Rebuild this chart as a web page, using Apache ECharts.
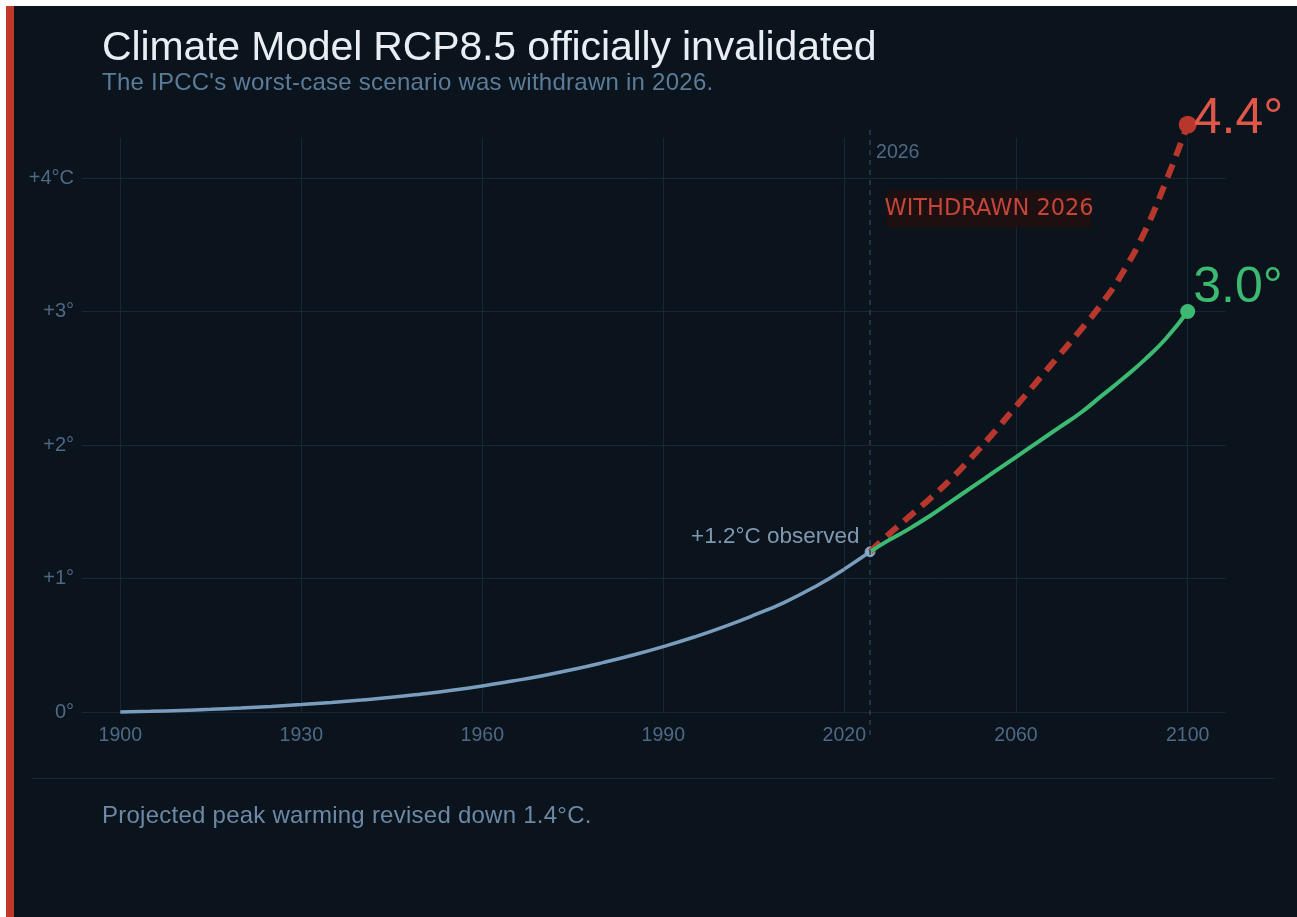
<!DOCTYPE html>
<html>
<head>
<meta charset="utf-8">
<title>Climate Model RCP8.5 officially invalidated</title>
<script src="https://cdn.jsdelivr.net/npm/echarts@6/dist/echarts.min.js"></script>
<style>
  html, body { margin: 0; padding: 0; background: #fff; width: 1297px; height: 917px; overflow: hidden; }
  .card { position: absolute; left: 6px; top: 6px; right: 0; bottom: 0; background: #0b141d; border-left: 8px solid #c0392b; }
  .txt { position: absolute; margin: 0; white-space: nowrap; font-family: "Liberation Sans", Arial, sans-serif; z-index: 2; }
  .title { left: 102px; top: 26px; font-size: 41px; line-height: 41px; color: #e8eef4; letter-spacing: -0.15px; font-weight: normal; }
  .subtitle { left: 102px; top: 70px; font-size: 24px; line-height: 24px; color: #5b7c99; letter-spacing: 0.25px; }
  .rule { position: absolute; left: 32px; right: 22px; top: 778px; height: 0; border-top: 1px solid #1a2634; z-index: 2; }
  .footer { left: 102px; top: 803px; font-size: 24px; line-height: 24px; color: #6b89a6; letter-spacing: 0.25px; }
  #chart { position: absolute; left: 0; top: 0; width: 1297px; height: 917px; z-index: 1; }
</style>
</head>
<body>
<div class="card"></div>
<h1 class="txt title">Climate Model RCP8.5 officially invalidated</h1>
<div class="txt subtitle">The IPCC's worst-case scenario was withdrawn in 2026.</div>
<div id="chart"></div>
<div class="rule"></div>
<div class="txt footer">Projected peak warming revised down 1.4°C.</div>

<script>
// observed warming, 1900 -> 2026 (every 5 years)
const obsYears = [1900, 1905, 1910, 1915, 1920, 1925, 1930, 1935, 1940, 1945, 1950, 1955, 1960,
                  1965, 1970, 1975, 1980, 1985, 1990, 1995, 2000, 2005, 2010, 2015, 2020, 2023, 2026];
const obsTemps = [0, 0.005, 0.012, 0.02, 0.03, 0.042, 0.056, 0.072, 0.09, 0.11, 0.135, 0.163, 0.195,
                  0.232, 0.272, 0.318, 0.37, 0.427, 0.49, 0.56, 0.638, 0.725, 0.82, 0.935, 1.07, 1.135, 1.2];

// withdrawn RCP8.5 path
const rcpYears = [2026, 2030, 2035, 2040, 2045, 2050, 2055, 2060, 2065, 2070, 2075, 2080, 2085, 2090, 2095, 2100];
const rcpTemps = [1.2, 1.32, 1.46, 1.6, 1.75, 1.92, 2.1, 2.29, 2.48, 2.67, 2.86, 3.06, 3.3, 3.6, 3.98, 4.4];

// revised projection
const revYears = [2026, 2030, 2035, 2040, 2045, 2050, 2055, 2060, 2065, 2070, 2075, 2080, 2085, 2090, 2095, 2100];
const revTemps = [1.2, 1.28, 1.37, 1.47, 1.58, 1.69, 1.8, 1.91, 2.02, 2.13, 2.24, 2.37, 2.5, 2.64, 2.8, 3.0];

const yTickLabels = ["0°", "+1°", "+2°", "+3°", "+4°C"];
const splitYear = 2020;   // x scale changes after this year
const withdrawnYear = 2026;

const gridColor = "#1a2634";
const axisText = "#4d6985";
const font = "Liberation Sans, Arial, sans-serif";

const pairs = (xs, ys) => xs.map((x, i) => [x, ys[i]]);

// put a dot + label on the last point of a series
const withEndPoint = (data, size, label) =>
  data.map((p, i) =>
    i === data.length - 1
      ? { value: p, symbol: "circle", symbolSize: size, label: Object.assign({ show: true }, label) }
      : p
  );

const obs = pairs(obsYears, obsTemps);
const obsHist = obs.filter(p => p[0] <= splitYear);
const obsRecent = obs.filter(p => p[0] >= splitYear);

const chart = echarts.init(document.getElementById("chart"), null, { renderer: "canvas" });

const option = {
  animation: false,
  textStyle: { fontFamily: font },
  grid: [
    { left: 82, top: 138, width: 1143.7, height: 574 },
    { left: 120.3, top: 138, width: 724, height: 574 },
    { left: 844.3, top: 138, width: 343.4, height: 574 }
  ],
  xAxis: [
    { gridIndex: 0, type: "value", min: 0, max: 1, show: false },
    {
      gridIndex: 1, type: "value", min: 1900, max: splitYear, interval: 30,
      axisLine: { show: false }, axisTick: { show: false },
      axisLabel: { color: axisText, fontSize: 19.5, margin: 14, formatter: v => String(v) },
      splitLine: { show: true, lineStyle: { color: gridColor, width: 1 } }
    },
    {
      gridIndex: 2, type: "value", min: splitYear, max: 2100, interval: 40,
      axisLine: { show: false }, axisTick: { show: false },
      axisLabel: { color: axisText, fontSize: 19.5, margin: 14, showMinLabel: false, formatter: v => String(v) },
      splitLine: { show: true, showMinLine: false, lineStyle: { color: gridColor, width: 1 } }
    }
  ],
  yAxis: [
    {
      gridIndex: 0, type: "value", min: 0, max: 4.3, interval: 1,
      axisLine: { show: false }, axisTick: { show: false },
      axisLabel: {
        color: axisText, fontSize: 20, margin: 8, showMaxLabel: false,
        formatter: v => (Number.isInteger(v) ? yTickLabels[v] : "")
      },
      splitLine: { show: true, showMaxLine: false, lineStyle: { color: gridColor, width: 1 } }
    },
    { gridIndex: 1, type: "value", min: 0, max: 4.3, show: false },
    { gridIndex: 2, type: "value", min: 0, max: 4.3, show: false }
  ],
  series: [
    {
      name: "Observed",
      type: "line",
      xAxisIndex: 1, yAxisIndex: 1,
      data: obsHist,
      smooth: true,
      symbol: "none",
      clip: false,
      z: 2,
      lineStyle: { color: "#7a9dbe", width: 3.5 }
    },
    {
      name: "Observed (recent)",
      type: "line",
      xAxisIndex: 2, yAxisIndex: 2,
      data: withEndPoint(obsRecent, 10, {
        position: "left", distance: 5, offset: [0, -15],
        color: "#7f98b1", fontSize: 22.5,
        formatter: p => "+" + p.value[1].toFixed(1) + "°C observed"
      }),
      smooth: true,
      symbol: "none",
      clip: false,
      z: 2,
      itemStyle: { color: "#8fabc6", borderColor: "#7a9dbe", borderWidth: 1 },
      lineStyle: { color: "#7a9dbe", width: 3.5 },
      markLine: {
        silent: true,
        symbol: ["none", "none"],
        label: { show: false },
        lineStyle: { type: [5, 5], color: "#2c3e52", width: 1.5 },
        data: [[{ xAxis: withdrawnYear, y: 130 }, { xAxis: withdrawnYear, y: 738 }]]
      },
      markPoint: {
        silent: true,
        data: [
          {
            name: "year", coord: [withdrawnYear, 4.19],
            symbol: "circle", symbolSize: 2, itemStyle: { color: "rgba(0,0,0,0)" },
            label: { show: true, position: "right", distance: 5, color: axisText, fontSize: 19.5, formatter: String(withdrawnYear) }
          },
          {
            name: "withdrawn", coord: [withdrawnYear, 3.77],
            symbol: "rect", symbolSize: [205, 37], symbolOffset: [119, 0],
            itemStyle: { color: "#1e0f10" },
            label: {
              show: true, position: "inside", color: "#c4463a", fontSize: 22.5,
              fontFamily: "DejaVu Sans", formatter: "WITHDRAWN " + withdrawnYear
            }
          }
        ]
      }
    },
    {
      name: "RCP8.5",
      type: "line",
      xAxisIndex: 2, yAxisIndex: 2,
      data: withEndPoint(pairs(rcpYears, rcpTemps), 18, {
        position: "right", distance: 0, offset: [-3, -5],
        color: "#e0574a", fontSize: 50,
        formatter: p => p.value[1].toFixed(1) + "°"
      }),
      smooth: true,
      symbol: "none",
      clip: false,
      z: 3,
      itemStyle: { color: "#b8372d" },
      lineStyle: { color: "#b8372d", width: 6, type: [14, 9], cap: "butt" }
    },
    {
      name: "Revised",
      type: "line",
      xAxisIndex: 2, yAxisIndex: 2,
      data: withEndPoint(pairs(revYears, revTemps), 15, {
        position: "right", distance: 0, offset: [-2, -23],
        color: "#3dba72", fontSize: 50,
        formatter: p => p.value[1].toFixed(1) + "°"
      }),
      smooth: true,
      symbol: "none",
      clip: false,
      z: 4,
      itemStyle: { color: "#3dba72" },
      lineStyle: { color: "#3dba72", width: 4 }
    }
  ]
};

chart.setOption(option);
</script>
</body>
</html>
